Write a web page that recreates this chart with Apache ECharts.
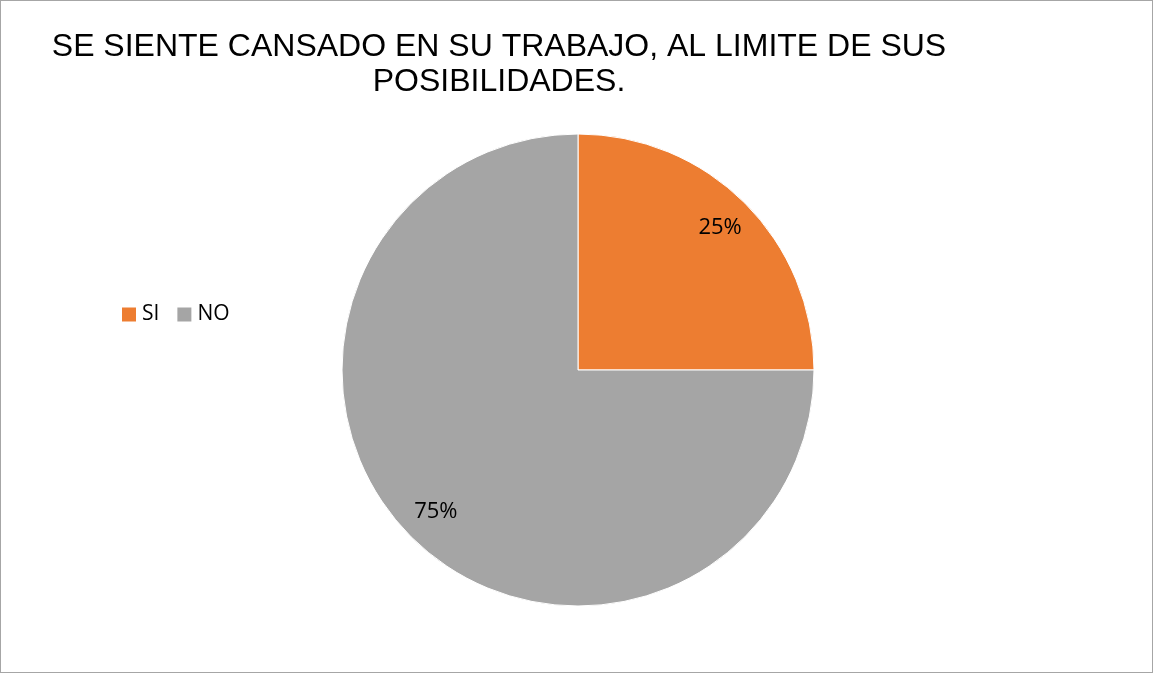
<!DOCTYPE html>
<html lang="es">
<head>
    <meta charset="UTF-8">
    <title>Se siente cansado</title>
    <style>
        * {
            margin: 0;
            padding: 0;
        }

        body {
            background: #fff;
        }

        #main {
            width: 1153px;
            height: 673px;
            box-sizing: border-box;
            border: 1px solid #a6a6a6;
        }
    </style>
    <script src="https://cdn.jsdelivr.net/npm/echarts@6/dist/echarts.min.js"></script>
</head>
<body>
<div id="main"></div>
<script>
    var categories = ['SI', 'NO'];
    var values = [25, 75];
    var colors = ['#ED7D31', '#A5A5A5'];

    var pieData = [];
    for (var i = 0; i < categories.length; i++) {
        pieData.push({name: categories[i], value: values[i], itemStyle: {color: colors[i]}});
    }

    var myChart = echarts.init(document.getElementById('main'));

    var option = {
        animation: false,
        title: {
            text: 'SE SIENTE CANSADO EN SU TRABAJO, AL LIMITE DE SUS\nPOSIBILIDADES.',
            left: 498,
            top: 29,
            padding: 0,
            textAlign: 'center',
            textStyle: {
                fontFamily: 'Liberation Sans',
                fontSize: 32,
                fontWeight: 'normal',
                color: '#000',
                lineHeight: 35,
                align: 'center'
            }
        },
        legend: {
            orient: 'horizontal',
            left: 121,
            top: 303,
            padding: 0,
            itemWidth: 14,
            itemHeight: 14,
            itemGap: 18,
            icon: 'rect',
            itemStyle: {borderWidth: 0},
            data: categories,
            textStyle: {
                fontFamily: 'Open Sans',
                fontSize: 21,
                color: '#000',
                padding: [0, 0, 0, 1]
            }
        },
        series: [
            { // visible pie
                type: 'pie',
                center: [577, 369],
                radius: 236,
                startAngle: 90,
                clockwise: true,
                label: {show: false},
                labelLine: {show: false},
                itemStyle: {borderColor: '#fff', borderWidth: 1},
                data: pieData
            },
            { // labels only, placed further out
                type: 'pie',
                center: [577, 369],
                radius: [160, 236],
                startAngle: 90,
                clockwise: true,
                silent: true,
                legendHoverLink: false,
                itemStyle: {color: 'rgba(0,0,0,0)'},
                label: {
                    show: true,
                    position: 'inside',
                    formatter: '{d}%',
                    fontFamily: 'Open Sans',
                    fontSize: 22,
                    color: '#000'
                },
                labelLine: {show: false},
                data: values.map(function (v, i) {
                    return {name: categories[i] + ' ', value: v};
                })
            }
        ]
    };
    myChart.setOption(option);
</script>
</body>
</html>
